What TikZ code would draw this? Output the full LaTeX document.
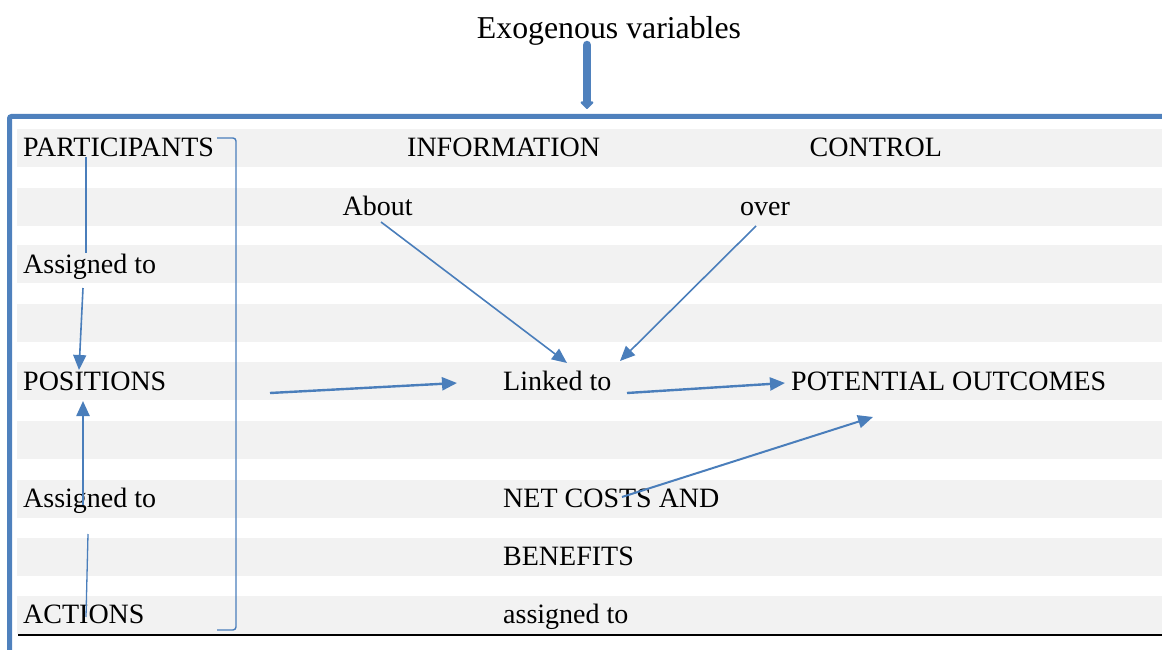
\documentclass[tikz,border=0pt]{standalone}
\usepackage{fontspec}
\setmainfont{Liberation Serif}
\usetikzlibrary{arrows.meta}
\definecolor{frameblue}{RGB}{79,129,189}
\definecolor{linkblue}{RGB}{74,126,187}
\definecolor{bandgray}{RGB}{242,242,242}
\tikzset{
  lbl/.style={anchor=base west,inner sep=0pt,font=\fontsize{28}{30}\selectfont},
  band/.style={fill=bandgray,draw=none},
  link/.style={draw=linkblue,line width=1.6pt},
  linkarrow/.style={link,-{Triangle[length=15pt,width=13pt]}},
  boldarrow/.style={linkarrow,line width=2.4pt},
}
\begin{document}
\begin{tikzpicture}[x=1pt,y=-1pt]
\useasboundingbox (0,0) rectangle (1162,650);

% shaded table rows
\foreach \t in {129,188,245,304,362,421,480,538,596}
  \fill[band] (17,\t) rectangle (1162,\t+38);

% heading and outer frame
\node[anchor=base,inner sep=0pt,font=\fontsize{31.8}{34}\selectfont] (exo) at (609,39) {Exogenous variables};
\draw[frameblue,line width=8.5pt,line cap=round,
      -{Triangle[length=8pt,width=15pt,round]}] (587,45) -- (587,109);
\draw[frameblue,line width=5pt,rounded corners=2pt] (9.5,652) -- (9.5,116.5) -- (1164,116.5);
\draw[black,line width=2pt] (18,635) -- (1162,635);

% left column
\node[lbl] (part) at (23,157) {PARTICIPANTS};
\node[lbl] (asg1) at (23,273) {Assigned to};
\node[lbl] (pos)  at (23,390) {POSITIONS};
\node[lbl] (asg2) at (23,507) {Assigned to};
\node[lbl] (act)  at (23,623) {ACTIONS};

% middle and right columns
\node[lbl] (info) at (407,157) {INFORMATION};
\node[lbl] (ctrl) at (809.5,157) {CONTROL};
\node[lbl] (about) at (342.5,215) {About};
\node[lbl] (over) at (740,215) {over};
\node[lbl] (link) at (503,390) {Linked to};
\node[lbl] (pout) at (791,390) {POTENTIAL OUTCOMES};
\node[lbl] (net)  at (503,507) {NET COSTS AND};
\node[lbl] (ben)  at (503,565) {BENEFITS};
\node[lbl] (asgd) at (503,623) {assigned to};

% bracket grouping the left column
\draw[link,line width=1.4pt,rounded corners=3pt] (217,138) -- (236,138) -- (236,630) -- (217,630);

% connector end points
\coordinate (part-s) at (86,157);
\coordinate (asg1-n) at (86,253);
\coordinate (asg1-s) at (83,288);
\coordinate (pos-n)  at (79,370);
\coordinate (pos-s)  at (83,401);
\coordinate (asg2-c) at (83,505);
\coordinate (asg2-s) at (88,534);
\coordinate (act-c)  at (86,617);
\coordinate (pos-e)  at (270,393);
\coordinate (link-w) at (457,383);
\coordinate (about-s) at (381,222);
\coordinate (link-nw) at (567,363);
\coordinate (over-s) at (756,226);
\coordinate (link-ne) at (620,361);
\coordinate (link-e) at (627,393);
\coordinate (pout-w) at (785,383);
\coordinate (net-c)  at (622,497);
\coordinate (pout-s) at (873,417);

% connectors
\draw[link,line width=1.3pt] (part-s) -- (asg1-n);
\draw[linkarrow] (asg1-s) -- (pos-n);
\draw[boldarrow] (asg2-c) -- (pos-s);
\draw[link,line width=1.3pt] (asg2-s) -- (act-c);
\draw[boldarrow] (pos-e) -- (link-w);
\draw[linkarrow] (about-s) -- (link-nw);
\draw[linkarrow] (over-s) -- (link-ne);
\draw[boldarrow] (link-e) -- (pout-w);
\draw[linkarrow,line width=2pt] (net-c) -- (pout-s);
\end{tikzpicture}
\end{document}
